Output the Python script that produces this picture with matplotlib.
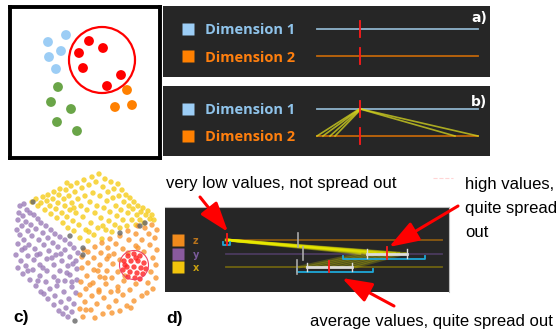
import matplotlib
matplotlib.use("Agg")
import matplotlib.pyplot as plt
from matplotlib.patches import Circle

W, H = 560, 333
DARK = "#262626"

# toy example (top left), positions read in picture pixels
toy_blue = [(48, 42), (66, 35), (61, 51), (49, 57), (56, 69)]
toy_red = [(89, 41), (103, 48), (79, 53), (83, 68), (121, 75), (107, 86)]
toy_green = [(58, 87), (51, 102), (71, 109), (57, 122), (77, 131)]
toy_orange = [(127, 90), (115, 107), (132, 105)]
toy_ring = (102, 60, 33)

# panels a) and b): normalised values on each dimension
dims = ["Dimension 1", "Dimension 2"]
dim_median = [0.267, 0.267]
b_dim1 = [0.262, 0.266, 0.270, 0.274, 0.268, 0.272]
b_dim2 = [0.0, 0.037, 0.081, 0.112, 0.857, 1.0]

# panel c) projection, local coords
c_yellow = [(22,34),(26,31),(28,38),(31,35),(33,29),(35,42),(37,33),(38,27),(40,38),(41,46),(43,31),(44,24),
            (46,41),(47,50),(48,35),(49,27),(50,21),(52,45),(53,55),(54,31),(55,38),(56,22),(57,49),(58,60),
            (59,28),(60,42),(61,18),(62,35),(63,53),(64,63),(65,24),(66,45),(67,15),(68,31),(69,57),(70,70),
            (71,38),(72,20),(73,49),(74,12),(75,28),(76,62),(77,42),(78,73),(79,17),(80,34),(81,55),(82,9),
            (83,25),(84,67),(85,45),(86,14),(87,38),(88,60),(89,6),(90,28),(91,50),(92,71),(93,19),(94,40),
            (95,11),(96,62),(97,33),(98,24),(99,53),(100,44),(101,14),(102,64),(103,30),(104,21),(105,57),
            (106,38),(107,48),(108,16),(109,28),(110,60),(111,42),(112,22),(113,52),(114,34),(116,27),(117,58),
            (118,45),(119,38),(120,30),(122,52),(123,41),(124,34),(126,57),(127,47),(128,38),(130,52),(131,44),
            (133,40),(134,55),(136,47),(138,43),(140,51),(142,47),(144,52),(64,40),(79,64),(93,58),(57,15)]
c_purple = [(10,38),(14,36),(17,42),(9,45),(13,48),(20,45),(24,47),(8,52),(16,54),(28,51),(31,55),(12,58),
            (21,57),(36,58),(7,62),(18,63),(26,61),(41,62),(33,65),(10,67),(45,66),(22,68),(14,72),(38,70),
            (50,69),(29,72),(55,72),(8,76),(43,75),(19,77),(34,77),(60,76),(48,79),(25,81),(12,82),(64,80),
            (39,83),(55,82),(30,86),(6,87),(18,88),(68,85),(46,87),(60,89),(24,92),(11,93),(37,91),(52,93),
            (66,93),(30,97),(44,97),(16,98),(58,98),(8,100),(23,102),(37,103),(67,101),(50,103),(13,106),
            (30,108),(44,109),(60,107),(20,112),(55,113),(36,114),(67,112),(26,118),(47,118),(62,119),(40,121),
            (31,124),(54,124),(66,125),(45,128),(38,131),(59,131),(51,134),(64,136),(44,137),(56,140),(49,143),
            (62,144),(58,149),(53,146),(34,126),(28,113),(18,103),(42,90),(57,105),(63,96),(48,113),(33,100),
            (27,87),(15,80),(51,86),(62,114)]
c_orange = [(128,58),(135,60),(142,57),(147,62),(118,63),(126,66),(139,66),(110,68),(145,70),(100,71),
            (119,72),(132,72),(92,75),(106,76),(126,78),(140,77),(85,79),(98,80),(113,81),(147,82),(78,84),
            (91,85),(104,86),(134,84),(118,85),(72,89),(84,90),(97,91),(110,92),(143,90),(78,95),(90,97),
            (103,96),(146,97),(72,100),(84,102),(97,103),(141,104),(108,104),(77,108),(90,109),(102,110),
            (146,110),(114,113),(71,114),(83,115),(96,116),(126,116),(138,115),(108,119),(76,121),(89,122),
            (120,122),(143,121),(101,124),(113,127),(70,127),(82,128),(94,130),(132,128),(106,133),(124,133),
            (75,134),(87,136),(117,138),(99,139),(70,141),(81,142),(110,143),(93,146),(73,149),(85,150),
            (121,140),(137,125),(115,108),(128,80),(95,110),(88,103),(80,117),(102,145),(76,142),(89,124),
            (99,88),(108,123),(74,82)]
c_selected = [(118,88),(124,86),(130,88),(114,93),(121,93),(128,93),(134,95),(117,99),(124,99),(131,100),
              (136,101),(113,102),(120,104),(127,105),(133,106),(118,109),(125,110),(130,111),(126,90),(115,97)]
c_gray = [(23,34),(60,68),(73,80),(73,87),(130,58),(135,55),(110,65),(65,153)]
c_ring = (124, 97, 14.5)

# panel d): z, y, x summaries (normalised)
d_labels = ["z", "y", "x"]
d_median = [0.005, 0.745, 0.477]
d_iqr = [None, (0.653, 0.838), (0.375, 0.583)]
d_range = [(-0.015, 0.02), (0.542, 0.921), (0.329, 0.681)]
d_mean = [0.333, 0.356, 0.329]
d_z = [0.0, 0.003, 0.005, 0.007, 0.010, 0.004, 0.006, 0.008]
d_y = [0.62, 0.66, 0.69, 0.72, 0.75, 0.78, 0.80, 0.83]
d_x = [0.34, 0.37, 0.41, 0.45, 0.49, 0.53, 0.57, 0.60]

fig = plt.figure(figsize=(5.6, 3.33), dpi=100)


def px_axes(x0, y0, x1, y1):
    ax = fig.add_axes([x0 / W, 1 - y1 / H, (x1 - x0) / W, (y1 - y0) / H])
    ax.set_xticks([])
    ax.set_yticks([])
    return ax


# --- toy scatter
ax0 = px_axes(10, 7, 160, 158)
ax0.set_xlim(10, 160)
ax0.set_ylim(158, 7)
for pts, col in [(toy_blue, "#9ccdf5"), (toy_red, "#ff0000"), (toy_green, "#6aa548"), (toy_orange, "#ff8000")]:
    ax0.scatter([p[0] for p in pts], [p[1] for p in pts], s=50, color=col, edgecolors="none")
ax0.add_patch(Circle(toy_ring[:2], toy_ring[2], fill=False, ec="red", lw=1.6))
for sp in ax0.spines.values():
    sp.set_linewidth(2.8)
    sp.set_edgecolor("black")

# --- panels a) and b)
sq_cols = ["#9ccdf5", "#ff8000"]
txt_cols = ["#8fc3ea", "#ff7f0e"]
line_cols = ["#8fb3cc", "#c0660a"]


def dim_panel(y0, y1, row0):
    ax = px_axes(163, y0, 490, y1)
    ax.set_facecolor(DARK)
    for sp in ax.spines.values():
        sp.set_visible(False)
    ax.set_xlim((163 - 317) / 161, (490 - 317) / 161)
    ax.set_ylim((y1 - row0) / 27, (y0 - row0) / 27)
    for i, name in enumerate(dims):
        ax.plot(-0.804, i, marker="s", ms=9, color=sq_cols[i], mec="none")
        ax.text(-0.696, i, name, color=txt_cols[i], fontsize=10.5, fontweight="bold",
                family="Open Sans", va="center_baseline")
        ax.plot([0, 1], [i, i], color=line_cols[i], lw=1.3)
        ax.plot([dim_median[i]] * 2, [i - 0.3, i + 0.3], color="#ff1a1a", lw=1.3, zorder=4)
    return ax


dim_panel(6, 77, 29)
axb = dim_panel(86, 156, 109)
for v1, v2 in zip(b_dim1, b_dim2):
    axb.plot([v1, v2], [0, 1], color="#d8d820", alpha=0.75, lw=1.2, zorder=3)

# --- panel c)
axc = px_axes(10, 168, 160, 328)
axc.set_xlim(0, 150)
axc.set_ylim(160, 0)
axc.axis("off")
for pts, col in [(c_purple, "#9b7cb8"), (c_yellow, "#f5cc1a"), (c_orange, "#f8952f"),
                 (c_selected, "#ff2020"), (c_gray, "#666666")]:
    axc.scatter([p[0] for p in pts], [p[1] for p in pts], s=15, color=col, alpha=0.8, edgecolors="none")
axc.add_patch(Circle(c_ring[:2], c_ring[2], fill=False, ec="#ee4466", lw=0.8))

# --- panel d)
axd = px_axes(165, 207, 449, 292)
axd.set_facecolor(DARK)
for sp in axd.spines.values():
    sp.set_edgecolor("#bbbbbb")
    sp.set_linewidth(0.8)
axd.spines["left"].set_visible(False)
axd.spines["bottom"].set_visible(False)
axd.set_xlim((165 - 226) / 216, (449 - 226) / 216)
axd.set_ylim((292 - 240) / 13.5, (207 - 240) / 13.5)
d_sq = ["#f08a1c", "#8a5a9e", "#f2c40c"]
d_txt = ["#b8731c", "#7a5a9a", "#c8a010"]
d_line = ["#8a5a12", "#4b3b5e", "#6e6212"]
for i, lab in enumerate(d_labels):
    axd.plot(-0.22, i, marker="s", ms=9.2, color=d_sq[i], mec="none")
    axd.text(-0.153, i, lab, color=d_txt[i], fontsize=7, fontweight="bold", va="center_baseline")
    axd.plot([0, 1], [i, i], color=d_line[i], lw=1.3, zorder=1)
for z, y in zip(d_z, d_y):
    axd.plot([z, y], [0, 1], color="#f0f000", alpha=0.35, lw=2, zorder=2)
for x, y in zip(d_x, d_y):
    axd.plot([x, y], [2, 1], color="#e8e800", alpha=0.22, lw=2, zorder=2)
for i in range(3):
    lo, hi = d_range[i]
    axd.plot([lo, lo, hi, hi], [i + 0.15, i + 0.4, i + 0.4, i + 0.15], color="#1fa8d8", lw=1.3, zorder=3)
    if d_iqr[i]:
        a, b = d_iqr[i]
        axd.plot([a, b], [i, i], color="#dddddd", lw=2, zorder=4)
        axd.plot([a, a], [i - 0.3, i + 0.3], color="#dddddd", lw=1, zorder=4)
        axd.plot([b, b], [i - 0.3, i + 0.3], color="#dddddd", lw=1, zorder=4)
    axd.plot([d_mean[i]] * 2, [i - 0.5, i + 0.5], color="#aaaaaa", lw=1.2, zorder=4)
    axd.plot([d_median[i]] * 2, [i - 0.45, i + 0.4], color="#ff1a1a", lw=1.3, zorder=5)

# --- overlay: labels, notes, arrows
cv = fig.add_axes([0, 0, 1, 1], facecolor="none")
cv.set_xlim(0, W)
cv.set_ylim(H, 0)
cv.axis("off")
cv.text(487, 18.5, "a)", color="white", fontsize=10, fontweight="bold", ha="right", va="center")
cv.text(487, 102, "b)", color="white", fontsize=10, fontweight="bold", ha="right", va="center")
cv.text(13, 322, "c)", fontsize=12.5, fontweight="bold", family="Liberation Sans", va="baseline")
cv.text(166, 323, "d)", fontsize=12.5, fontweight="bold", family="Liberation Sans", va="baseline")
note = dict(fontsize=12, family="Liberation Sans", va="baseline")
cv.text(166, 188, "very low values, not spread out", **note)
cv.text(465, 189, "high values,", **note)
cv.text(465, 213, "quite spread", **note)
cv.text(465, 237, "out", **note)
cv.text(310, 326, "average values, quite spread out", **note)
cv.plot([433, 453], [178, 178], color="#ffd5d5", lw=0.8, ls="--")
arrow = dict(arrowstyle="-|>,head_length=1.3,head_width=0.45", color="red", lw=2.2,
             mutation_scale=14, shrinkA=0, shrinkB=0)
cv.annotate("", xy=(228, 232), xytext=(200, 197), arrowprops=arrow)
cv.annotate("", xy=(389, 247), xytext=(458, 206), arrowprops=arrow)
cv.annotate("", xy=(342, 278), xytext=(394, 306), arrowprops=arrow)

fig.savefig("out.png", dpi=100)
